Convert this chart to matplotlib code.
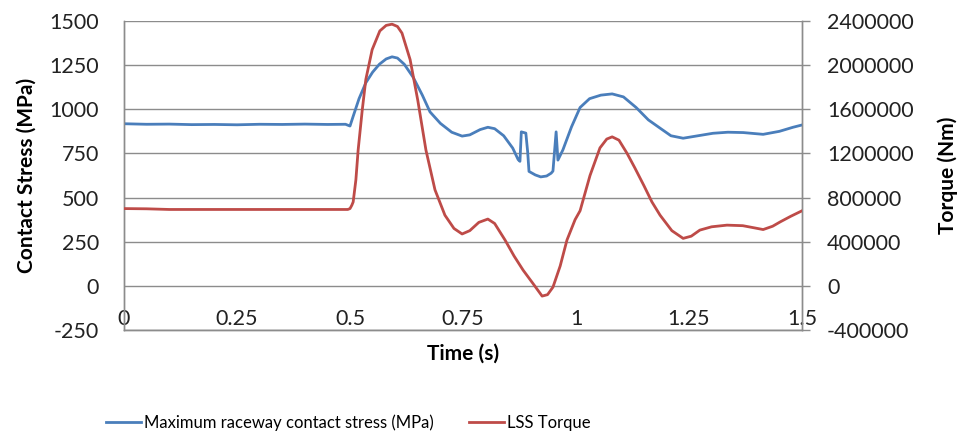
import matplotlib.pyplot as plt
from matplotlib.ticker import FuncFormatter

plt.rcParams['font.family'] = ['Lato', 'DejaVu Sans']
plt.rcParams['axes.unicode_minus'] = False

# Maximum raceway contact stress (MPa), left axis
t_stress = [0, 0.05, 0.1, 0.15, 0.2, 0.25, 0.3, 0.35, 0.4, 0.45, 0.49, 0.5,
            0.507, 0.52, 0.535, 0.55, 0.565, 0.58, 0.593, 0.605, 0.62, 0.64,
            0.66, 0.677, 0.7, 0.725, 0.748, 0.765, 0.788, 0.805, 0.82, 0.84,
            0.86, 0.872, 0.876, 0.879, 0.889, 0.893, 0.896, 0.91, 0.922,
            0.935, 0.945, 0.949, 0.956, 0.96, 0.971, 0.99, 1.009, 1.03, 1.055,
            1.08, 1.105, 1.133, 1.16, 1.186, 1.21, 1.237, 1.27, 1.303, 1.336,
            1.37, 1.414, 1.45, 1.48, 1.5]
stress = [918, 915, 916, 913, 914, 912, 915, 914, 916, 914, 915, 905,
          960, 1060, 1150, 1210, 1255, 1285, 1297, 1290, 1255, 1180,
          1080, 985, 920, 870, 848, 855, 885, 898, 890, 850,
          780, 715, 705, 872, 865, 760, 648, 628, 617,
          622, 638, 650, 872, 712, 770, 900, 1010, 1060, 1080,
          1087, 1070, 1010, 940, 893, 850, 836, 850, 864, 870,
          868, 858, 875, 898, 911]

# LSS Torque (Nm), right axis
t_torque = [0, 0.05, 0.1, 0.15, 0.2, 0.3, 0.4, 0.45, 0.495, 0.5, 0.504,
            0.507, 0.513, 0.518, 0.527, 0.535, 0.549, 0.566, 0.58, 0.593,
            0.605, 0.615, 0.633, 0.65, 0.668, 0.688, 0.71, 0.73, 0.748, 0.765,
            0.785, 0.805, 0.82, 0.843, 0.863, 0.883, 0.905, 0.925, 0.937,
            0.949, 0.965, 0.98, 0.998, 1.009, 1.031, 1.053, 1.068, 1.08,
            1.095, 1.113, 1.13, 1.15, 1.168, 1.186, 1.212, 1.237, 1.255, 1.274,
            1.3, 1.334, 1.369, 1.395, 1.414, 1.435, 1.452, 1.475, 1.5]
torque = [700000, 698000, 692000, 692000, 692000, 692000, 692000, 692000,
          692000, 700000, 730000, 760000, 960000, 1230000, 1590000, 1870000,
          2140000, 2310000, 2360000, 2371000, 2350000, 2290000, 2050000,
          1680000, 1230000, 870000, 640000, 520000, 470000, 500000, 575000,
          605000, 565000, 415000, 270000, 142000, 20000, -93000, -80000,
          -12000, 180000, 415000, 600000, 680000, 1000000, 1250000, 1330000,
          1350000, 1320000, 1200000, 1070000, 910000, 760000, 640000, 500000,
          430000, 450000, 505000, 535000, 550000, 545000, 525000, 510000,
          540000, 580000, 630000, 680000]

blue = '#4A7EBB'
red = '#BE4B48'
grid_c = '#8C8C8C'

fig = plt.figure(figsize=(9.59, 4.37), dpi=100)
ax = fig.add_axes([0.1293, 0.2449, 0.7070, 0.7071])
ax2 = ax.twinx()

l1, = ax.plot(t_stress, stress, color=blue, lw=2, label='Maximum raceway contact stress (MPa)', zorder=3)
l2, = ax2.plot(t_torque, torque, color=red, lw=2, label='LSS Torque', zorder=3)

ax.set_xlim(0, 1.5)
ax.set_ylim(-250, 1500)
ax.set_yticks(range(-250, 1501, 250))
ax.set_xticks([0, 0.25, 0.5, 0.75, 1, 1.25, 1.5])
ax.set_xticklabels(['0', '0.25', '0.5', '0.75', '1', '1.25', '1.5'])
ax2.set_ylim(-400000, 2400000)
ax2.set_yticks(range(-400000, 2400001, 400000))
ax2.yaxis.set_major_formatter(FuncFormatter(lambda v, p: '%d' % v))

ax.grid(axis='y', color=grid_c, lw=1)
ax.set_axisbelow(True)
for a in (ax, ax2):
    a.spines['top'].set_visible(False)
    for s in ('left', 'right', 'bottom'):
        a.spines[s].set_color(grid_c)
        a.spines[s].set_linewidth(1)

ax.tick_params(axis='y', length=0, pad=18, labelsize=15.5, colors='#222222')
ax.tick_params(axis='x', length=0, pad=-15, labelsize=15.5, colors='#222222')
ax2.tick_params(axis='y', length=6, width=1, color=grid_c, pad=12, labelsize=15.5, labelcolor='#222222')

ax.set_ylabel('Contact Stress (MPa)', fontsize=15, fontweight='bold', labelpad=9)
ax2.set_ylabel('Torque (Nm)', fontsize=15, fontweight='bold', rotation=90, labelpad=17)
ax.set_xlabel('Time (s)', fontsize=15, fontweight='bold', labelpad=10)

fig.legend(handles=[l1, l2], loc='center', bbox_to_anchor=(0.363, 0.032), ncol=2,
           frameon=False, fontsize=12, handlelength=2.1, handletextpad=0.18,
           columnspacing=2.1)

fig.savefig('out.png', dpi=100)
